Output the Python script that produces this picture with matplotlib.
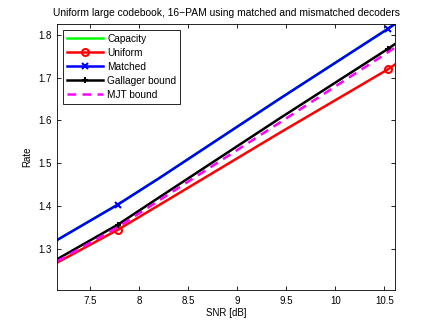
import matplotlib
matplotlib.use('Agg')
import matplotlib.pyplot as plt

plt.rcParams['font.family'] = ['Liberation Sans', 'DejaVu Sans']

# SNR points (dB) and rates
snr = [7.16, 7.78, 8.21, 9.44, 10.54, 10.61]
capacity = [1.320, 1.403, 1.466, 1.652, 1.815, 1.826]
matched = [1.320, 1.403, 1.466, 1.652, 1.815, 1.826]
uniform = [1.267, 1.344, 1.403, 1.572, 1.720, 1.731]
gallager = [1.275, 1.356, 1.421, 1.606, 1.768, 1.779]
mjt = [1.270, 1.350, 1.414, 1.596, 1.760, 1.771]

xticks = [7.5, 8, 8.5, 9, 9.5, 10, 10.5]
yticks = [1.3, 1.4, 1.5, 1.6, 1.7, 1.8]

fig = plt.figure(figsize=(4.36, 3.28), dpi=100)
ax = fig.add_axes([0.131, 0.116, 0.775, 0.811])

mk = [1, 4]
ax.plot(snr, capacity, color='#00ff00', lw=1.8, label='Capacity')
ax.plot(snr, uniform, color='red', lw=1.8, marker='o', ms=5, mfc='none',
        mew=1.5, markevery=mk, label='Uniform')
ax.plot(snr, matched, color='blue', lw=1.8, marker='x', ms=4, mew=1.5,
        markevery=mk, label='Matched')
ax.plot(snr, gallager, color='black', lw=1.8, marker='+', ms=5, mew=1.5,
        markevery=mk, label='Gallager bound')
ax.plot(snr, mjt, color='magenta', lw=1.8, ls=(0, (3.5, 2.5)), label='MJT bound')

ax.set_xlim(7.16, 10.61)
ax.set_ylim(1.203, 1.826)
ax.set_xticks(xticks)
ax.set_xticklabels([('%g' % t) for t in xticks])
ax.set_yticks(yticks)
ax.tick_params(direction='in', top=True, right=True, labelsize=7, length=3,
               width=0.6, pad=4)
for s in ax.spines.values():
    s.set_linewidth(0.6)

ax.set_xlabel('SNR [dB]', fontsize=7, labelpad=2)
ax.set_ylabel('Rate', fontsize=7, labelpad=4)
ax.set_title('Uniform large codebook, 16\u2212PAM using matched and mismatched decoders',
             fontsize=7.4, pad=6)

leg = ax.legend(loc='upper left', fontsize=7.3, handlelength=3.6, fancybox=False,
                framealpha=1, edgecolor='black', borderaxespad=0.55,
                labelspacing=0.4, handletextpad=0.4, borderpad=0.4)
leg.get_frame().set_linewidth(0.6)

fig.savefig('out.png', dpi=100)
